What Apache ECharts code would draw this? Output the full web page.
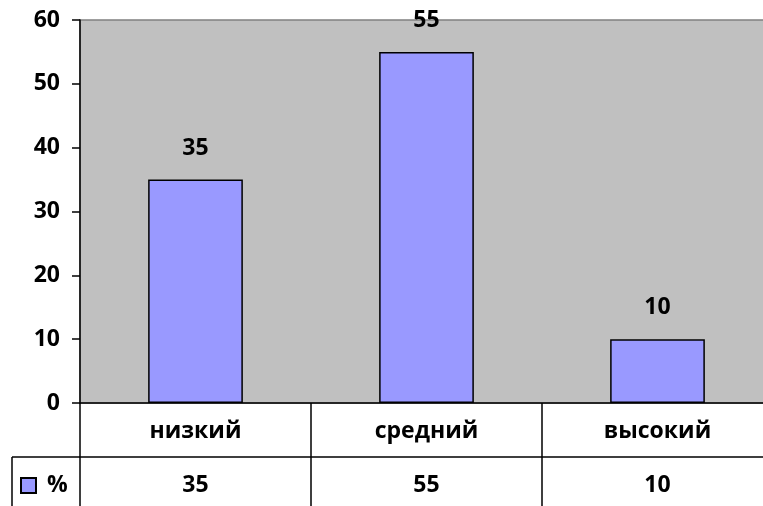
<!DOCTYPE html>
<html><head><meta charset="utf-8">
<script src="https://cdn.jsdelivr.net/npm/echarts@6/dist/echarts.min.js"></script>
<style>html,body{margin:0;padding:0;background:#fff}#c{width:763px;height:506px}</style>
</head><body><div id="c"></div>
<script>
const categories = ['низкий', 'средний', 'высокий'];
const values = [35, 55, 10];
const seriesName = '%';
const yTicks = {min: 0, max: 60, interval: 10};

const FONT = '"Open Sans", "Noto Sans", sans-serif';
const FS = 23;
const chart = echarts.init(document.getElementById('c'), null, {renderer: 'canvas'});
chart.setOption({
  animation: false,
  textStyle: {fontFamily: FONT},
  grid: {left: 80, top: 20, right: -10, bottom: 103, show: true, outerBoundsMode: 'none',
         backgroundColor: '#C0C0C0', borderColor: '#808080', borderWidth: 1.5},
  legend: {left: 20, top: 474, padding: 0, icon: 'rect', itemWidth: 15, itemHeight: 15, itemGap: 10,
           data: [seriesName],
           textStyle: {fontFamily: FONT, fontWeight: 'bold', fontSize: FS, color: '#000', padding: [0, 0, 0, 6]}},
  xAxis: [{
    type: 'category', data: categories, position: 'bottom',
    axisLine: {lineStyle: {color: '#000', width: 1.5}},
    axisTick: {show: true, length: 103, lineStyle: {color: '#000', width: 1.5}},
    axisLabel: {margin: 17, fontFamily: FONT, fontWeight: 'bold', fontSize: FS, color: '#000'}
  }, {
    type: 'category', data: values.map(String), position: 'bottom', offset: 54,
    axisLine: {lineStyle: {color: '#000', width: 1.5}},
    axisTick: {show: false},
    axisLabel: {margin: 17, fontFamily: FONT, fontWeight: 'bold', fontSize: FS, color: '#000'}
  }],
  yAxis: {
    type: 'value', min: yTicks.min, max: yTicks.max, interval: yTicks.interval,
    axisLine: {show: true, lineStyle: {color: '#000', width: 1.5}},
    axisTick: {show: true, length: 8, lineStyle: {color: '#000', width: 1.5}},
    splitLine: {show: false},
    axisLabel: {margin: 20, fontFamily: FONT, fontWeight: 'bold', fontSize: FS, color: '#000'}
  },
  series: [{
    name: seriesName, type: 'bar', data: values, barWidth: '41%',
    itemStyle: {color: '#9999FF', borderColor: '#000', borderWidth: 1.5},
    label: {show: true, position: 'top', distance: 20, fontFamily: FONT,
            fontWeight: 'bold', fontSize: FS, color: '#000'}
  }],
  graphic: [
    {type: 'line', shape: {x1: 12, y1: 457, x2: 80, y2: 457}, style: {stroke: '#000', lineWidth: 1.5}},
    {type: 'line', shape: {x1: 12, y1: 457, x2: 12, y2: 506}, style: {stroke: '#000', lineWidth: 1.5}}
  ]
});
</script></body></html>
